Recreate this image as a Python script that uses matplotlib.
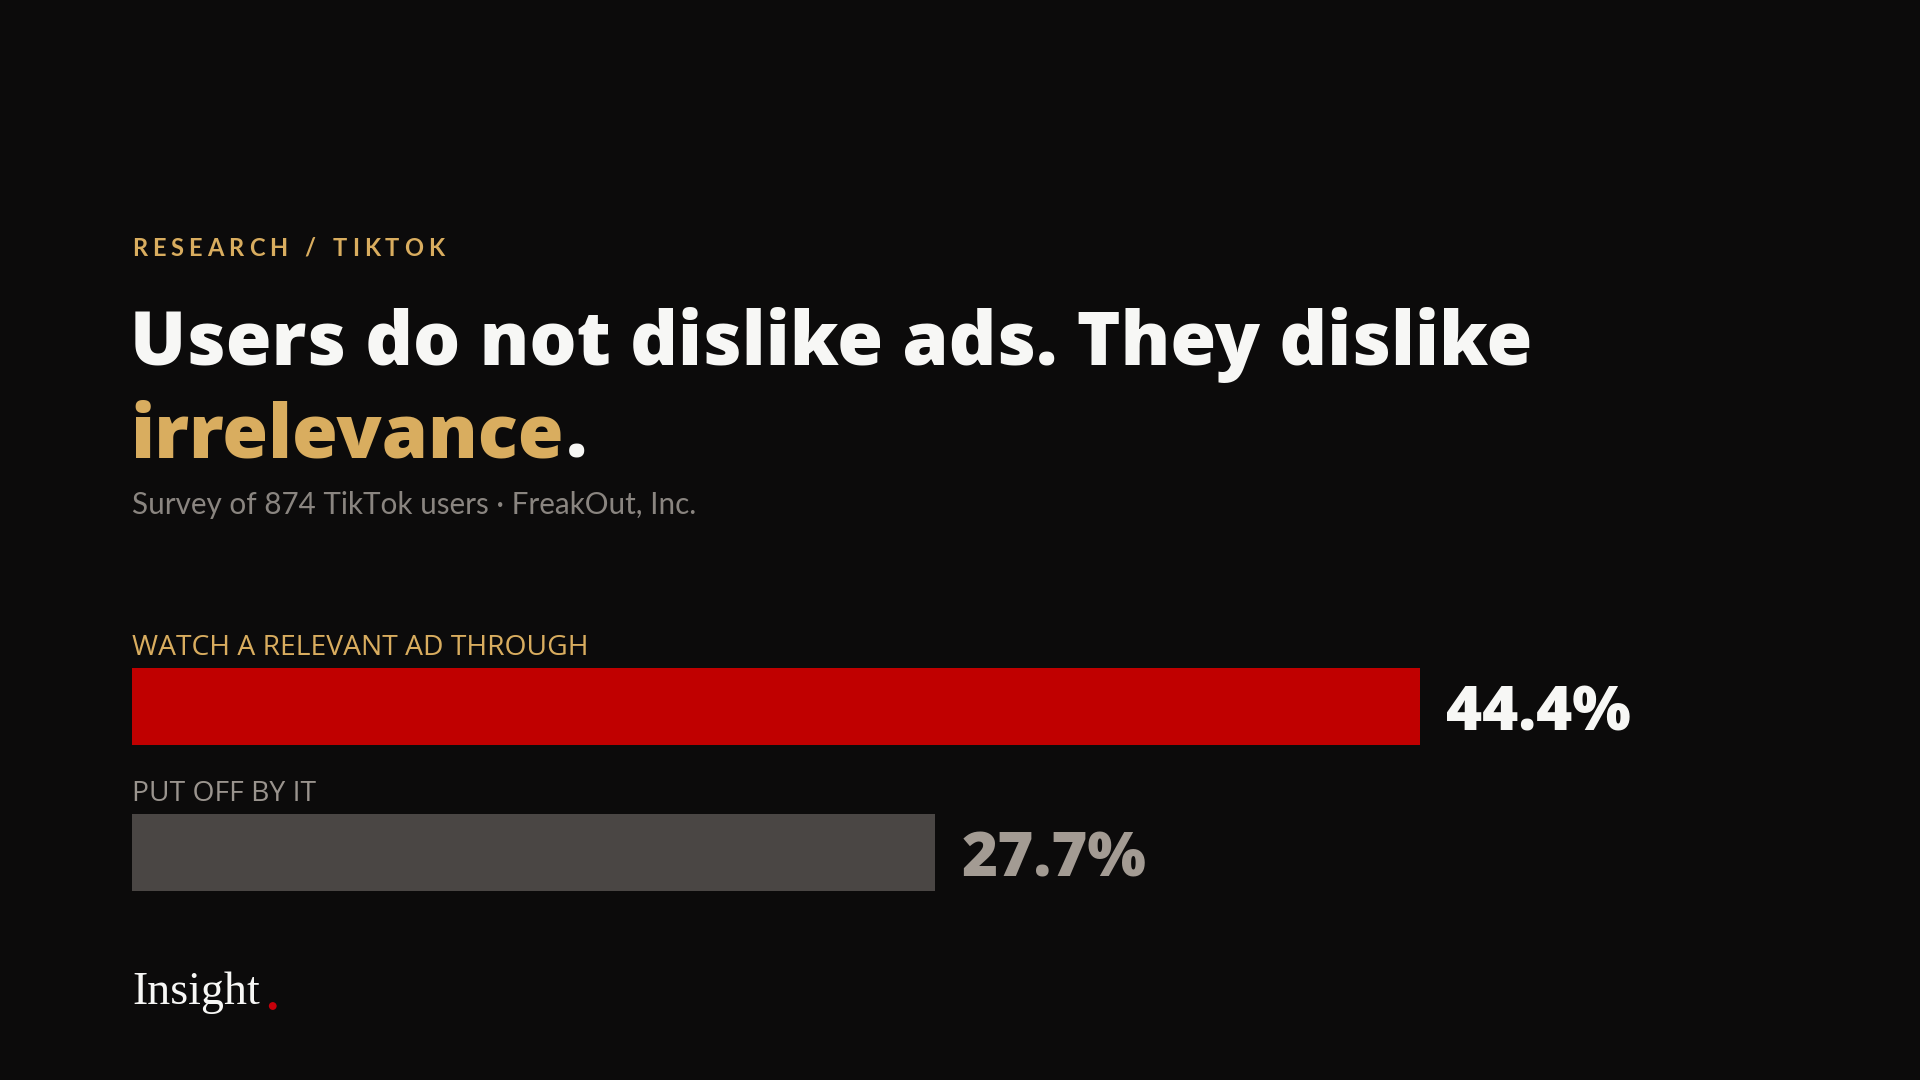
import matplotlib.pyplot as plt
from matplotlib.patches import Circle

categories = ['WATCH A RELEVANT AD THROUGH', 'PUT OFF BY IT']
values = [44.4, 27.7]
bar_colors = ['#c00000', '#4a4644']
label_colors = ['#d9ad5f', '#9a948e']
value_colors = ['#f7f7f5', '#a39b93']

BG = '#0c0b0b'
GOLD = '#d9ad5f'

W, H = 1920, 1080
fig = plt.figure(figsize=(19.2, 10.8), dpi=100, facecolor=BG)


def fx(px):
    return px / W


def fy(py):
    return 1 - py / H


LEFT = 132

# kicker with letter spacing
renderer = fig.canvas.get_renderer()
x = LEFT
for ch in 'RESEARCH / TIKTOK':
    t = fig.text(fx(x), fy(256), ch, color=GOLD, fontsize=17, family='Lato',
                 weight='bold', va='baseline', ha='left')
    bb = t.get_window_extent(renderer)
    x += (bb.width if ch != ' ' else 7) + 5.0

# title
fig.text(fx(LEFT - 2), fy(365), 'Users do not dislike ads. They dislike', color='#f7f7f5',
         fontsize=53.5, family='Open Sans', weight='heavy', va='baseline')
t2 = fig.text(fx(LEFT - 2), fy(458), 'irrelevance', color=GOLD,
              fontsize=53.5, family='Open Sans', weight='heavy', va='baseline')
bb = t2.get_window_extent(renderer)
fig.text(fx(LEFT - 2 + bb.width + 2), fy(458), '.', color='#f7f7f5',
         fontsize=53.5, family='Open Sans', weight='heavy', va='baseline')

fig.text(fx(LEFT), fy(514), 'Survey of 874 TikTok users \u00b7 FreakOut, Inc.', color='#8a8580',
         fontsize=21.3, family='Lato', weight='normal', va='baseline')

# bars
ax = fig.add_axes([fx(LEFT), fy(900), 1450 / W, 300 / H])
ax.set_facecolor('none')
ys = list(range(len(values)))
h = 0.527
ax.barh(ys, values, height=h, color=bar_colors)
ax.set_xlim(0, 50)
ax.set_ylim(1.325, -0.729)
ax.axis('off')

for i, (cat, v) in enumerate(zip(categories, values)):
    ax.text(0, i - h / 2 - 0.09, cat, color=label_colors[i], fontsize=20.3,
            family='Open Sans', va='baseline', ha='left')
    ax.annotate(f'{v}%', (v, i), xytext=(19, -17.6), textcoords='offset points',
                color=value_colors[i], fontsize=44.5, family='Open Sans', weight='heavy',
                va='baseline', ha='left')

# footer
t3 = fig.text(fx(LEFT), fy(1004), 'Insight', color='#f7f7f5', fontsize=33,
              family='Liberation Serif', va='baseline')
bb = t3.get_window_extent(renderer)
fig.add_artist(Circle((LEFT + bb.width + 13, H - 1006), 3.2, color='#c8000a',
                      transform=None))

fig.savefig('out.png', dpi=100, facecolor=BG)
